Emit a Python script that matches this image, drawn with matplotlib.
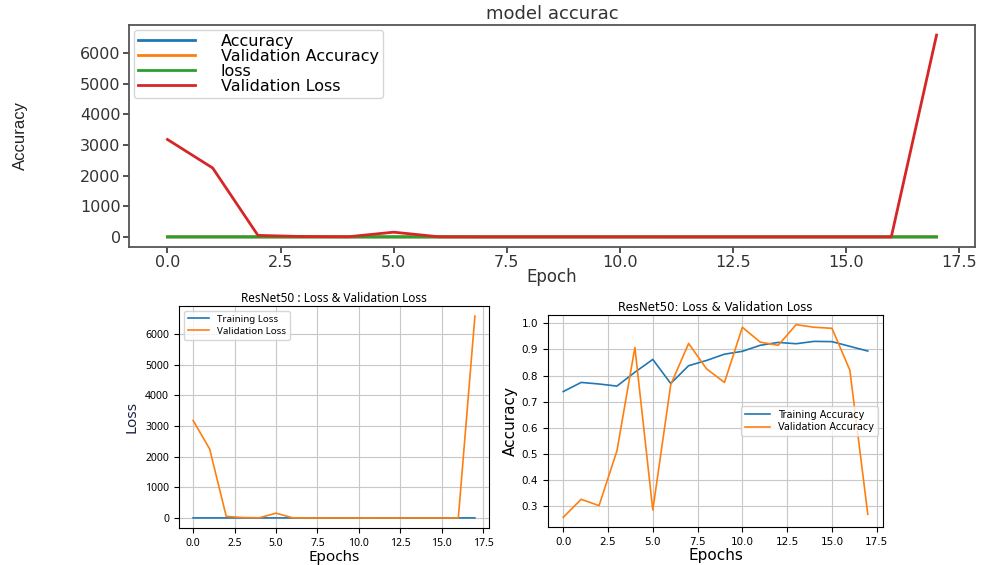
import matplotlib
matplotlib.use("Agg")
import matplotlib.pyplot as plt
from matplotlib.ticker import MultipleLocator

# Training history of a ResNet50 run (18 epochs)
epochs = list(range(18))

train_acc = [0.739, 0.774, 0.768, 0.760, 0.813, 0.862, 0.770, 0.838, 0.858,
             0.882, 0.893, 0.916, 0.927, 0.922, 0.931, 0.930, 0.912, 0.894]
val_acc = [0.258, 0.327, 0.303, 0.513, 0.908, 0.286, 0.765, 0.923, 0.826,
           0.774, 0.985, 0.928, 0.916, 0.995, 0.985, 0.981, 0.821, 0.270]
train_loss = [0.62, 0.55, 0.56, 0.57, 0.50, 0.38, 0.56, 0.42, 0.38,
              0.33, 0.31, 0.26, 0.23, 0.24, 0.22, 0.22, 0.26, 0.31]
val_loss = [3182, 2250, 50, 12, 5, 155, 4, 1.2, 0.9,
            1.1, 0.5, 0.6, 0.7, 0.3, 0.4, 0.4, 0.9, 6590]

W, H = 990, 565
fig = plt.figure(figsize=(W / 100, H / 100), dpi=100)
fig.patch.set_facecolor("white")

NOTO = ["Noto Sans", "DejaVu Sans"]


def box(left, top, right, bottom):
    return [left / W, (H - bottom) / H, (right - left) / W, (bottom - top) / H]


# ---- top: all four curves on one axis ----
ax0 = fig.add_axes(box(129, 25, 975, 247))
ax0.plot(epochs, train_acc, color="tab:blue", lw=2, label="Accuracy")
ax0.plot(epochs, val_acc, color="tab:orange", lw=2, label="Validation Accuracy")
ax0.plot(epochs, train_loss, color="tab:green", lw=2, label="loss")
ax0.plot(epochs, val_loss, color="tab:red", lw=2, label="Validation Loss")
ax0.yaxis.set_major_locator(MultipleLocator(1000))
ax0.set_title("model accurac", fontsize=13, color="#333333", pad=4)
ax0.set_xlabel("Epoch", fontsize=12, color="#333333", labelpad=-2)
ax0.set_ylabel("Accuracy", fontsize=12, color="#222222",
               family=["Liberation Sans Narrow", "Liberation Sans", "DejaVu Sans"])
ax0.yaxis.set_label_coords((28 - 129) / 846, 0.5)
ax0.tick_params(labelsize=11.5, colors="#333333", width=1.2, length=4, pad=2)
for s in ax0.spines.values():
    s.set_color("#555555")
    s.set_linewidth(1.3)
ax0.legend(loc="upper left", fontsize=11.5, handlelength=3.6,
           labelspacing=0.0, borderpad=0.25, handletextpad=1.6,
           borderaxespad=0.3, framealpha=0.8)

# ---- bottom left: loss curves ----
ax1 = fig.add_axes(box(179, 306, 489, 528))
ax1.plot(epochs, train_loss, color="tab:blue", lw=1.2, label="Training Loss")
ax1.plot(epochs, val_loss, color="tab:orange", lw=1.2, label="Validation Loss")
ax1.grid(True, color="#c8c8c8", lw=0.8)
ax1.set_title("ResNet50 : Loss & Validation Loss", fontsize=8.5, pad=3, family=NOTO)
ax1.set_xlabel("Epochs", fontsize=11, labelpad=1, family=NOTO)
ax1.set_ylabel("Loss", fontsize=11, color="#1a2040", labelpad=4, family=NOTO)
ax1.tick_params(labelsize=7.5)
for lab in ax1.get_xticklabels() + ax1.get_yticklabels():
    lab.set_family(NOTO)
ax1.legend(loc="upper left", prop={"family": NOTO, "size": 7},
           handlelength=2.2, labelspacing=0.3, borderpad=0.4)

# ---- bottom right: accuracy curves ----
ax2 = fig.add_axes(box(548, 315, 883, 527))
ax2.plot(epochs, train_acc, color="tab:blue", lw=1.2, label="Training Accuracy")
ax2.plot(epochs, val_acc, color="tab:orange", lw=1.2, label="Validation Accuracy")
ax2.grid(True, color="#c8c8c8", lw=0.8)
ax2.set_title("ResNet50: Loss & Validation Loss", fontsize=8.5, pad=3)
ax2.set_xlabel("Epochs", fontsize=11, labelpad=1)
ax2.set_ylabel("Accuracy", fontsize=11, labelpad=3)
ax2.tick_params(labelsize=7.5)
ax2.legend(loc="center right", fontsize=7, handlelength=2.6,
           labelspacing=0.3, borderpad=0.4)

fig.savefig("out.png", dpi=100)
